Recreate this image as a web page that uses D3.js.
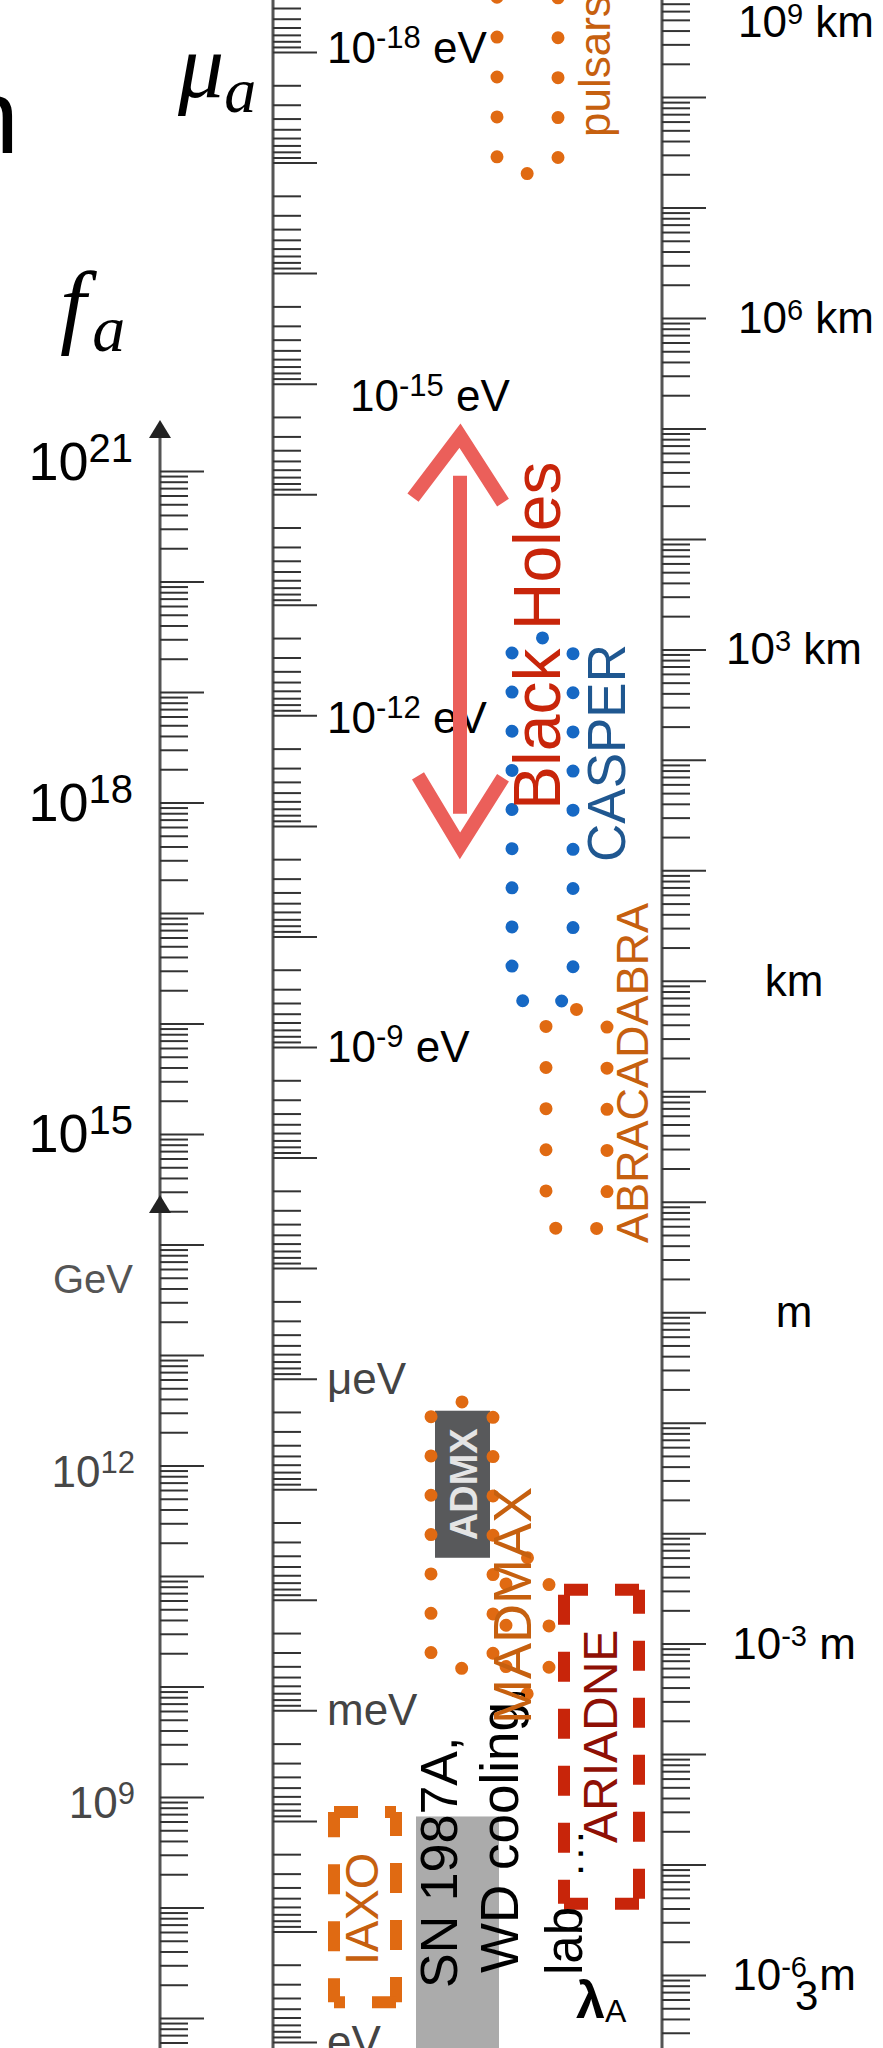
<!DOCTYPE html>
<html>
<head>
<meta charset="utf-8">
<script src="https://cdn.jsdelivr.net/npm/d3@7"></script>
<style>
  body { margin: 0; background: #fff; }
  svg { display: block; }
  text { font-family: "Liberation Sans", Arial, sans-serif; white-space: pre; }
  .math { font-family: "Liberation Serif", "DejaVu Serif", serif; font-style: italic; }
</style>
</head>
<body>
<div id="chart"></div>
<script>
// ---- data ----
// f_a ruler (GeV), decade labels (log10)
const faLabelVals = [21, 18, 15, 12, 9];
// mu_a ruler (eV), decade labels (log10)
const muLabelVals = [-18, -15, -12, -9, -6, -3, 0];
const muLabelBase = ['10', '10', '10', '10', 'μeV', 'meV', 'eV'];
const muLabelSup = ['-18', '-15', '-12', '-9', '', '', ''];
const muLabelUnit = [' eV', ' eV', ' eV', ' eV', '', '', ''];
// lambda_A ruler (m), decade labels (log10)
const lamLabelVals = [12, 9, 6, 3, 0, -3, -6];
const lamLabelBase = ['10', '10', '10', 'km', 'm', '10', '10'];
const lamLabelSup = ['9', '6', '3', '', '', '-3', '-6'];
const lamLabelUnit = [' km', ' km', ' km', '', '', ' m', ' m'];

// dotted sensitivity ranges, log10(mu_a / eV)
const dotNames = ['pulsars', 'CASPER', 'ABRACADABRA', 'ADMX ext.', 'MADMAX'];
const dotLo = [-19.0, -12.70, -9.34, -5.79, -4.38];
const dotHi = [-16.90, -9.41, -7.35, -3.38, -3.15];
// dashed boxes
const boxNames = ['IAXO', 'ARIADNE'];
const boxLo = [-2.08, -4.09];
const boxHi = [-0.36, -1.25];
// filled bands
const bandNames = ['ADMX', 'SN 1987A, WD cooling'];
const bandLo = [-5.71, -2.04];
const bandHi = [-4.38, 0.6];
// black hole superradiance
const bhRange = [-14.53, -10.82];

// ---- layout ----
const W = 883, H = 2048;
const svg = d3.select('#chart').append('svg').attr('width', W).attr('height', H);

const yFa = d3.scaleLog().domain([1e9, 1e21]).range([1797, 471]);
const yMu = d3.scaleLog().domain([1e-18, 1]).range([52, 2042]);
const yLam = d3.scaleLog().domain([1e-6, 1e9]).range([1975, 318]);
const mu = l => yMu(Math.pow(10, l));

function logTicks(scale, lo, hi, maxV) {
  const minor = [], major = [];
  for (let n = lo; n <= hi; n++) {
    for (let k = 1; k <= 9; k++) {
      const v = k * Math.pow(10, n);
      if (maxV && v > maxV * 1.0001) continue;
      const y = scale(v);
      if (y < -3 || y > H + 3) continue;
      (k === 1 ? major : minor).push(v);
    }
  }
  return {minor, major};
}

function ruler(x, scale, ticks, y0, y1) {
  const g = svg.append('g').attr('transform', `translate(${x},0)`);
  g.append('line').attr('x1', 0).attr('x2', 0).attr('y1', y0).attr('y2', y1)
    .attr('stroke', '#555').attr('stroke-width', 3);
  g.append('g')
    .call(d3.axisRight(scale).tickValues(ticks.minor).tickSize(28).tickFormat(''))
    .call(s => s.select('.domain').remove());
  g.append('g')
    .call(d3.axisRight(scale).tickValues(ticks.major).tickSize(44).tickFormat(''))
    .call(s => s.select('.domain').remove());
  g.selectAll('.tick line').attr('stroke', '#333').attr('stroke-width', 2);
  return g;
}

// f_a axis
ruler(160, yFa, logTicks(yFa, 6, 21, 1e21), 430, H);
[420, 1195].forEach(tip => {
  svg.append('path')
    .attr('d', `M160,${tip} L149,${tip + 18} L171,${tip + 18} Z`)
    .attr('fill', '#222');
});
// mu_a axis
ruler(273, yMu, logTicks(yMu, -19, 0), 0, H);
// lambda axis
ruler(662, yLam, logTicks(yLam, -7, 11), 0, H);

function supText(x, y, anchor, base, sup, unit, fs, sfs, rise, color) {
  const t = svg.append('text').attr('x', x).attr('y', y)
    .attr('text-anchor', anchor).attr('fill', color).attr('font-size', fs);
  t.append('tspan').text(base);
  if (sup) {
    t.append('tspan').attr('font-size', sfs).attr('dy', -rise).text(sup);
    if (unit) t.append('tspan').attr('dy', rise).text(unit);
  } else if (unit) {
    t.append('tspan').text(unit);
  }
  return t;
}

// f_a labels
const faNudge = [-9, 0, 0, 3, 3];
faLabelVals.forEach((v, i) => {
  const gray = i >= 3;
  supText(gray ? 135 : 133, yFa(Math.pow(10, v)) + 18 + faNudge[i], 'end', '10', String(v), '',
    gray ? 44 : 54, gray ? 31 : 40, gray ? 14 : 18, gray ? '#474747' : '#000');
});
svg.append('text').attr('x', 133).attr('y', 1293).attr('text-anchor', 'end')
  .attr('font-size', 40).attr('fill', '#555').text('GeV');

// mu labels
const muNudge = [-4, 12, 3, 0, 0, 0, 0];
muLabelVals.forEach((v, i) => {
  const gray = i >= 4;
  supText(i === 1 ? 350 : 327, mu(v) + 15 + muNudge[i], 'start',
    muLabelBase[i], muLabelSup[i], muLabelUnit[i],
    44, 31, 15, gray ? '#444' : '#000');
});

// lambda labels
lamLabelVals.forEach((v, i) => {
  const y = Math.max(yLam(Math.pow(10, v)) + 15, 37);
  supText(i < 2 ? 806 : 794, y, 'middle', lamLabelBase[i], lamLabelSup[i], lamLabelUnit[i],
    44, 29, 13, '#000');
});
svg.append('text').attr('x', 795).attr('y', 2010).attr('font-size', 42).text('3');

// axis symbols
svg.append('text').attr('x', 19).attr('y', 153).attr('text-anchor', 'end')
  .attr('font-size', 106).text('n');
const muSym = svg.append('text').attr('class', 'math').attr('x', 178).attr('y', 97).attr('font-size', 92);
muSym.append('tspan').text('μ');
muSym.append('tspan').attr('font-size', 64).attr('dy', 15).text('a');
const faSym = svg.append('text').attr('class', 'math').attr('x', 60).attr('y', 336).attr('font-size', 94);
faSym.append('tspan').text('f');
faSym.append('tspan').attr('font-size', 66).attr('dx', 6).attr('dy', 15).text('a');

// filled bands
const bandX = [[435, 490], [416, 499]];
const bandColor = ['#58595b', '#ababab'];
bandNames.forEach((n, i) => {
  const y0 = mu(bandLo[i]), y1 = Math.min(mu(bandHi[i]), H + 10);
  svg.append('rect').attr('x', bandX[i][0]).attr('y', y0)
    .attr('width', bandX[i][1] - bandX[i][0]).attr('height', y1 - y0)
    .attr('fill', bandColor[i]);
});

// dotted ranges
const dotX = [[497, 558], [512, 573], [546, 607], [431, 493], [506, 549]];
const dotColor = ['#e06a12', '#1668c4', '#e06a12', '#e06a12', '#e06a12'];
dotNames.forEach((n, i) => {
  const [x0, x1] = dotX[i];
  const y0 = mu(dotLo[i]), y1 = mu(dotHi[i]);
  const r = 16, p = d3.path();
  p.moveTo((x0 + x1) / 2, y0);
  p.lineTo(x1 - r, y0); p.arcTo(x1, y0, x1, y0 + r, r);
  p.lineTo(x1, y1 - r); p.arcTo(x1, y1, x1 - r, y1, r);
  p.lineTo(x0 + r, y1); p.arcTo(x0, y1, x0, y1 - r, r);
  p.lineTo(x0, y0 + r); p.arcTo(x0, y0, x0 + r, y0, r);
  p.closePath();
  const el = svg.append('path').attr('d', p.toString()).attr('fill', 'none')
    .attr('stroke', dotColor[i]).attr('stroke-width', 13).attr('stroke-linecap', 'round');
  const L = el.node().getTotalLength();
  const k = Math.max(1, Math.round(L / 40));
  el.attr('stroke-dasharray', `0 ${L / k}`);
});

// dashed boxes
const boxX = [[334, 396], [564, 639]];
const boxColor = ['#e06a12', '#c8250a'];
boxNames.forEach((n, i) => {
  const [x0, x1] = boxX[i];
  const y0 = mu(boxLo[i]), y1 = mu(boxHi[i]);
  const sides = [[x0, y0, x1, y0], [x1, y0, x1, y1], [x1, y1, x0, y1], [x0, y1, x0, y0]];
  sides.forEach(s => {
    svg.append('line').attr('x1', s[0]).attr('y1', s[1]).attr('x2', s[2]).attr('y2', s[3])
      .attr('stroke', boxColor[i]).attr('stroke-width', 12)
      .attr('stroke-dasharray', '30 27').attr('stroke-dashoffset', 6);
  });
});

// rotated labels
function vtext(x, y, txt, size, color, weight) {
  return svg.append('text').attr('transform', `translate(${x},${y}) rotate(-90)`)
    .attr('font-size', size).attr('fill', color).attr('font-weight', weight || 'normal')
    .text(txt);
}
vtext(610, 137, 'pulsars', 44, '#c6600f');
vtext(625, 862, 'CASPER', 53, '#1f5790');
vtext(648, 1243, 'ABRACADABRA', 45, '#c6600f');
svg.append('text').attr('transform', `translate(477,${(mu(bandLo[0]) + mu(bandHi[0])) / 2}) rotate(-90)`)
  .attr('text-anchor', 'middle').attr('font-size', 38).attr('font-weight', 'bold')
  .attr('fill', '#e4e4e4').text('ADMX');
vtext(457, 1988, 'SN 1987A,', 52, '#000');
vtext(518, 1973, 'WD cooling,', 53, '#000');
vtext(531, 1724, 'MADMAX', 54, '#c6600f');
vtext(582, 1975, 'lab', 51, '#000');
vtext(583, 1874, '...', 30, '#000', 'bold').attr('letter-spacing', 8);
vtext(617, 1843, 'ARIADNE', 48, '#8e1005');
vtext(378, 1965, 'IAXO', 47, '#c6600f');
const lam = svg.append('text').attr('x', 576).attr('y', 2018).attr('font-size', 52).attr('font-weight', 'bold');
lam.append('tspan').text('λ');
lam.append('tspan').attr('font-weight', 'normal').attr('font-size', 32).attr('dy', 4).text('A');

// black hole arrow
const bhTop = mu(bhRange[0]), bhBot = mu(bhRange[1]);
svg.append('path')
  .attr('d', `M460,${bhTop + 40} L460,${bhBot - 32}` +
    `M413,${bhTop + 62} L460,${bhTop} L503,${bhTop + 67}` +
    `M418,${bhBot - 70} L460,${bhBot} L503,${bhBot - 68}`)
  .attr('fill', 'none').attr('stroke', '#eb5f5a').attr('stroke-width', 14)
  .attr('stroke-linejoin', 'miter');
vtext(560, 810, 'Black Holes', 66, '#c8250a');
</script>
</body>
</html>
